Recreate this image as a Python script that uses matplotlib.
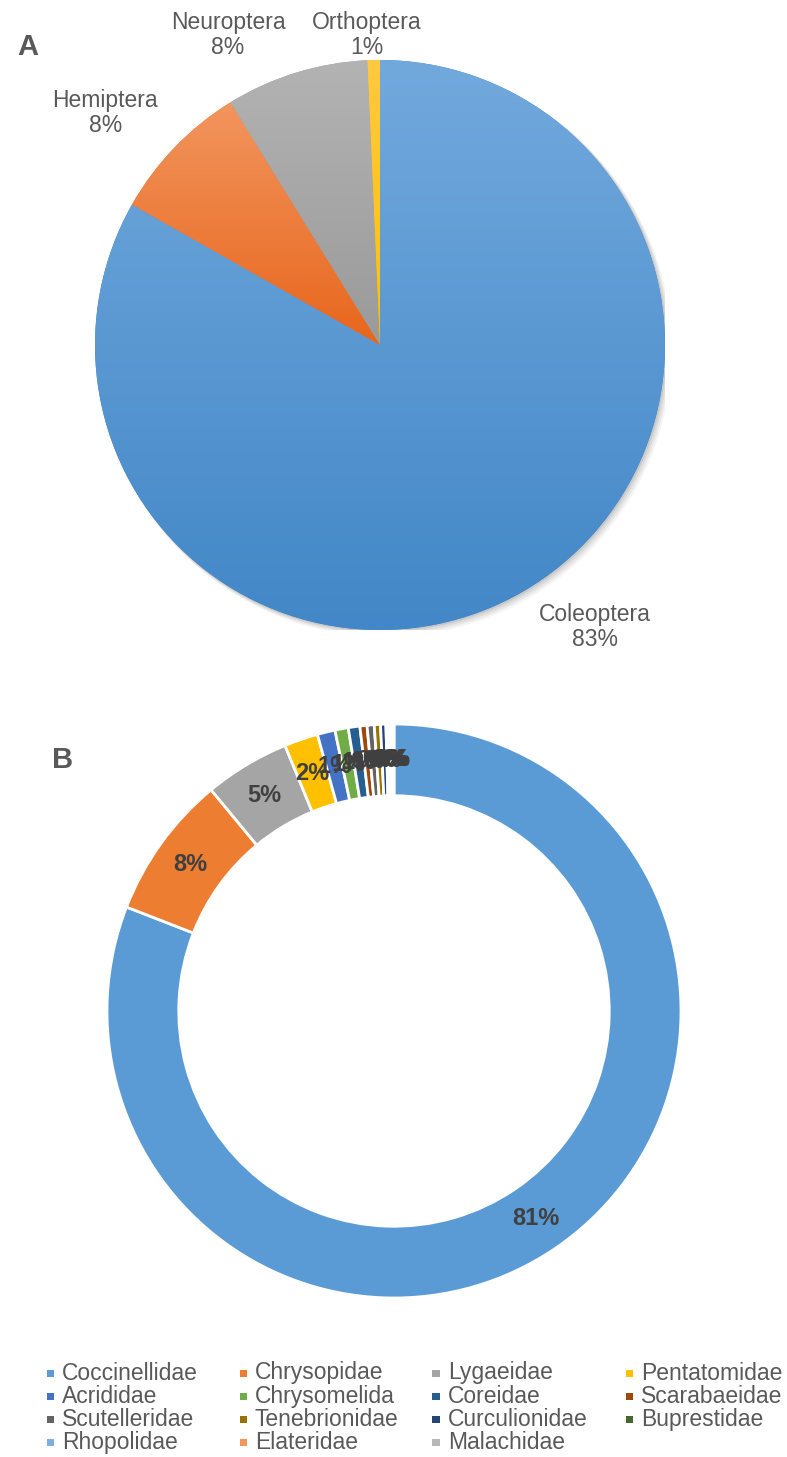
import numpy as np
import matplotlib
matplotlib.use("Agg")
import matplotlib.pyplot as plt
from matplotlib.colors import LinearSegmentedColormap
from matplotlib.patches import Circle, Rectangle

plt.rcParams['font.family'] = ['Liberation Sans', 'DejaVu Sans']

# ---------------- data ----------------
orders = ["Coleoptera", "Hemiptera", "Neuroptera", "Orthoptera"]
order_pct = [83.2, 8.0, 8.1, 0.7]
order_top = ["#72A9DD", "#F2955E", "#B3B3B3", "#FFC940"]
order_bot = ["#4287C7", "#E8661C", "#9A9A9A", "#FFC000"]

families = ["Coccinellidae", "Chrysopidae", "Lygaeidae", "Pentatomidae",
            "Acrididae", "Chrysomelida", "Coreidae", "Scarabaeidae",
            "Scutelleridae", "Tenebrionidae", "Curculionidae", "Buprestidae",
            "Rhopolidae", "Elateridae", "Malachidae"]
family_pct = [80.9, 8.1, 4.8, 1.9, 1.0, 0.75, 0.65, 0.4, 0.4, 0.35, 0.3,
              0.15, 0.1, 0.1, 0.1]
family_colors = ["#5B9BD5", "#ED7D31", "#A5A5A5", "#FFC000", "#4472C4",
                 "#70AD47", "#255E91", "#9E480E", "#636363", "#997300",
                 "#264478", "#43682B", "#7CAFDD", "#F1975A", "#B7B7B7"]

# label placement for panel A (radial distance, angular shift in degrees)
labA_dist = [1.244, 1.262, 1.212, 1.089]
labA_shift = [7.0, 3.7, 9.0, 1.2]

W, H = 787, 1457
fig = plt.figure(figsize=(W / 100, H / 100), dpi=100)
fig.patch.set_facecolor("white")

TXT = "#595959"

# ---------------- Panel A ----------------
cx, cy, r = 380, 345, 285
axA = fig.add_axes([(cx - r) / W, 1 - (cy + r) / H, 2 * r / W, 2 * r / H])
axA.axis("off")

# soft shadow (offset to bottom-right)
for k, a in enumerate([0.04, 0.05, 0.06, 0.08]):
    off = 0.0045 * (4 - k)
    axA.add_patch(Circle((off, -off), 1.0 + 0.0015 * (4 - k), facecolor="black",
                         alpha=a, edgecolor="none", zorder=0))

wedges, _ = axA.pie(order_pct, startangle=90, counterclock=False, radius=1,
                    colors=order_bot, wedgeprops=dict(linewidth=0))
axA.set_xlim(-1, 1)
axA.set_ylim(-1, 1)
axA.set_aspect("auto")
grad = np.linspace(0, 1, 256).reshape(-1, 1)
for w, ct, cb in zip(wedges, order_top, order_bot):
    w.set_zorder(1)
    bb = w.get_path().get_extents()
    cmap = LinearSegmentedColormap.from_list("g", [ct, cb])
    im = axA.imshow(grad, cmap=cmap, aspect="auto",
                    extent=[bb.x0, bb.x1, bb.y0, bb.y1],
                    origin="upper", zorder=2, interpolation="bilinear")
    im.set_clip_path(w)

for w, name, p, d, s in zip(wedges, orders, order_pct, labA_dist, labA_shift):
    ang = np.deg2rad((w.theta1 + w.theta2) / 2 + s)
    axA.text(d * np.cos(ang), d * np.sin(ang), f"{name}\n{p:.0f}%",
             ha="center", va="center", fontsize=16.5, color=TXT,
             linespacing=1.1, clip_on=False)

fig.text(17 / W, 1 - 47 / H, "A", fontsize=21, fontweight="bold", color=TXT,
         ha="left", va="center")

# ---------------- Panel B ----------------
cx2, cy2, r2 = 394, 1011, 287
axB = fig.add_axes([(cx2 - r2) / W, 1 - (cy2 + r2) / H, 2 * r2 / W, 2 * r2 / H])
wB, tB, aB = axB.pie(family_pct, startangle=90, counterclock=False, radius=1,
                     colors=family_colors, autopct="%1.0f%%", pctdistance=0.875,
                     wedgeprops=dict(width=0.25, edgecolor="white", linewidth=2.0),
                     textprops=dict(fontsize=17, fontweight="bold", color="#404040"))
axB.set_xlim(-1, 1)
axB.set_ylim(-1, 1)
axB.set_aspect("auto")
axB.axis("off")

fig.text(52 / W, 1 - 760 / H, "B", fontsize=21, fontweight="bold", color=TXT,
         ha="left", va="center")

# ---------------- Legend (row-major, 4 columns) ----------------
x0, dx, y0, dy = 50, 193, 1373, 23.3
for i, (name, c) in enumerate(zip(families, family_colors)):
    col, row = i % 4, i // 4
    xm = x0 + col * dx
    ym = y0 + row * dy
    fig.patches.append(Rectangle(((xm - 3.5) / W, 1 - (ym + 3.5) / H), 7 / W, 7 / H,
                                 transform=fig.transFigure, facecolor=c,
                                 edgecolor="none"))
    fig.text((xm + 12) / W, 1 - ym / H, name, fontsize=16.5, color=TXT,
             ha="left", va="center")

fig.savefig("out.png", dpi=100, facecolor="white")
